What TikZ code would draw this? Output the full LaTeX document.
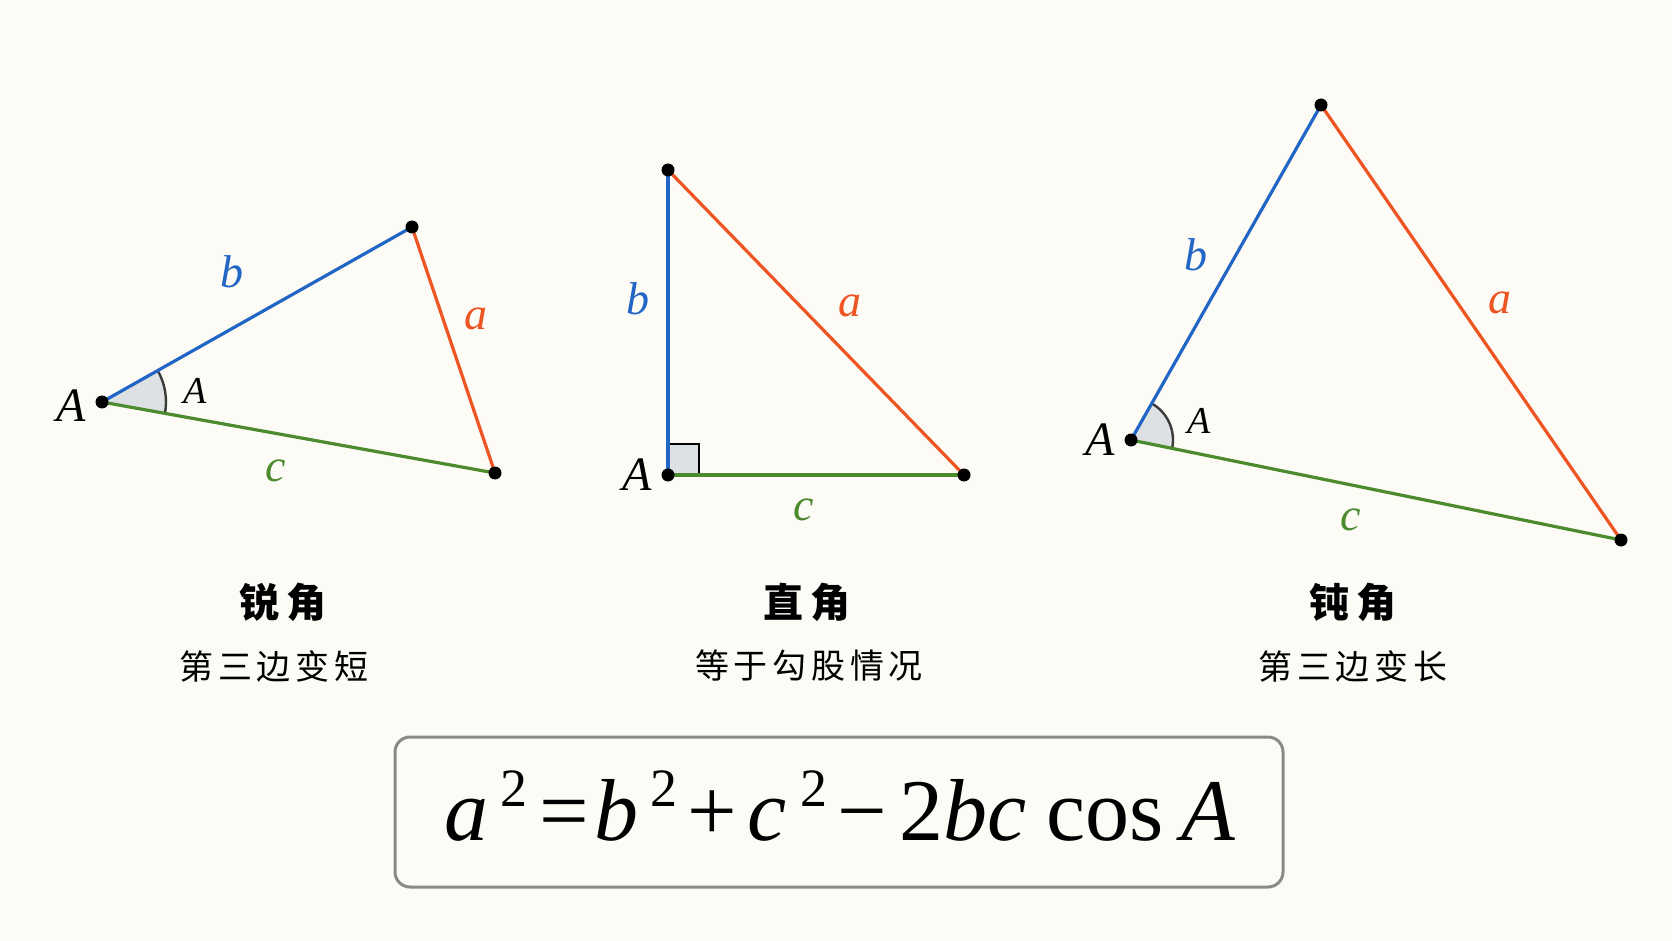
\documentclass[tikz,border=0pt]{standalone}
\usepackage{fontspec}
\setmainfont{Liberation Serif}
\newfontfamily\cjktitle{Noto Sans CJK SC}[LetterSpace=17]
\newfontfamily\cjksub{Noto Sans CJK SC}[LetterSpace=14]
\usetikzlibrary{angles}
\definecolor{bg}{HTML}{FCFBF6}
\definecolor{sideb}{HTML}{2166C4}
\definecolor{sidea}{HTML}{EE5522}
\definecolor{sidec}{HTML}{4C8A2E}
\definecolor{anglefill}{HTML}{DDE1E4}
\definecolor{arcgray}{HTML}{3A3A3A}
\definecolor{boxgray}{HTML}{8A8A85}
\newcommand{\supsq}{\raisebox{17pt}{\fontsize{27}{27}\selectfont 2}}
\begin{document}
\begin{tikzpicture}[x=0.5pt, y=-0.5pt,
    side/.style={line width=1.6pt, line cap=round},
    vlabel/.style={font=\fontsize{24}{24}\selectfont\itshape, inner sep=0pt},
    alabel/.style={font=\fontsize{19}{19}\selectfont\itshape, inner sep=0pt},
    slabel/.style={font=\fontsize{23}{23}\selectfont\itshape, inner sep=0pt},
    anglemark/.style={draw=arcgray, fill=anglefill, line width=1.2pt},
    title/.style={font=\cjktitle\bfseries\fontsize{20}{20}\selectfont, inner sep=0pt},
    subtitle/.style={font=\cjksub\fontsize{17}{17}\selectfont, inner sep=0pt}]
  % Background
  \fill[bg] (0,0) rectangle (1672,941);
  \useasboundingbox (0,0) rectangle (1672,941);

  % Vertices
  \coordinate (A1) at (102,402);
  \coordinate (B1) at (412,227);
  \coordinate (C1) at (495,473);
  \coordinate (A2) at (668,475);
  \coordinate (B2) at (668,170);
  \coordinate (C2) at (964,475);
  \coordinate (A3) at (1131,440);
  \coordinate (B3) at (1321,105);
  \coordinate (C3) at (1621,540);

  % Angle marks
  \pic[anglemark, angle radius=32pt] {angle = C1--A1--B1};
  \pic[draw=black, fill=anglefill, line width=1pt, angle radius=15.5pt] {right angle = C2--A2--B2};
  \pic[anglemark, angle radius=21pt] {angle = C3--A3--B3};

  % Sides
  \draw[side, sideb] (A1) -- (B1);
  \draw[side, sidea] (B1) -- (C1);
  \draw[side, sidec] (A1) -- (C1);
  \draw[side, sideb] (A2) -- (B2);
  \draw[side, sidea] (B2) -- (C2);
  \draw[side, sidec] (A2) -- (C2);
  \draw[side, sideb] (A3) -- (B3);
  \draw[side, sidea] (B3) -- (C3);
  \draw[side, sidec] (A3) -- (C3);

  % Points
  \foreach \p in {A1,B1,C1,A2,B2,C2,A3,B3,C3}
    \fill (\p) circle[radius=3.25pt];

  % Labels
  \node[vlabel] (lA1) at (71,406) {A};
  \node[alabel] (aA1) at (195,391) {A};
  \node[slabel, sideb] (lb1) at (232,272) {b};
  \node[slabel, sidea] (la1) at (476,319) {a};
  \node[slabel, sidec] (lc1) at (276,471) {c};
  \node[vlabel] (lA2) at (637,475) {A};
  \node[slabel, sideb] (lb2) at (638,299) {b};
  \node[slabel, sidea] (la2) at (850,306) {a};
  \node[slabel, sidec] (lc2) at (804,510) {c};
  \node[vlabel] (lA3) at (1100,440) {A};
  \node[alabel] (aA3) at (1199,421) {A};
  \node[slabel, sideb] (lb3) at (1196,255) {b};
  \node[slabel, sidea] (la3) at (1500,303) {a};
  \node[slabel, sidec] (lc3) at (1351,520) {c};

  % Captions
  \node[title] (t1) at (283,602) {锐角};
  \node[subtitle] (s1) at (274,666) {第三边变短};
  \node[title] (t2) at (807,602) {直角};
  \node[subtitle] (s2) at (809,666) {等于勾股情况};
  \node[title] (t3) at (1353,602) {钝角};
  \node[subtitle] (s3) at (1353,666) {第三边变长};

  % Formula
  \draw[boxgray, line width=1.5pt, fill=bg, rounded corners=7.5pt] (395,737) rectangle (1283,887);
  \node[anchor=base, inner sep=0pt, font=\fontsize{44}{44}\selectfont] (law) at (840,840)
    {\textit{a}\hspace{6pt}\supsq\hspace{6pt}=\hspace{3pt}\textit{b}\hspace{6pt}\supsq\hspace{5pt}+\hspace{5pt}\textit{c}\hspace{7pt}\supsq\hspace{5pt}\char"2212\hspace{6pt}2\textit{bc}\hspace{10pt}cos\hspace{9pt}\textit{A}};
\end{tikzpicture}
\end{document}
